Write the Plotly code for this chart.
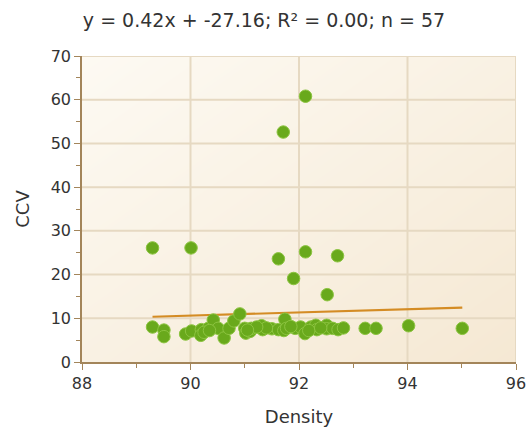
import plotly.graph_objects as go

density = [92.12, 91.71, 89.30, 90.01, 91.62, 92.12, 92.71, 91.90, 92.52,
           89.30, 89.51, 89.51, 89.91, 90.02, 90.20, 90.19, 90.33, 90.42, 90.51,
           90.62, 90.71, 90.80, 90.91, 91.00, 91.02, 91.10, 91.12, 91.31, 91.33,
           91.50, 91.62, 91.74, 91.72, 91.77, 91.93, 92.03, 92.11, 92.22, 92.31,
           92.33, 92.51, 92.51, 92.62, 92.72, 92.82, 93.22, 93.42, 94.02, 95.01,
           90.25, 91.40, 92.18, 91.22, 90.35, 91.05, 92.40, 91.85]
ccv = [60.8, 52.6, 26.1, 26.1, 23.6, 25.2, 24.3, 19.1, 15.4,
       8.0, 7.3, 5.8, 6.4, 7.1, 7.4, 6.1, 7.7, 9.6, 7.7,
       5.5, 7.7, 9.4, 11.0, 7.7, 6.6, 7.0, 7.7, 8.3, 7.4,
       7.6, 7.4, 9.8, 7.2, 7.7, 7.7, 8.0, 6.5, 8.0, 8.4,
       7.4, 8.4, 7.6, 7.7, 7.4, 7.8, 7.7, 7.7, 8.3, 7.7,
       6.8, 7.8, 7.2, 8.0, 7.2, 7.3, 7.8, 8.1]

trend_x = [89.30, 95.01]
trend_y = [10.35, 12.45]

title_text = "y = 0.42x + -27.16; R² = 0.00; n = 57"
x_ticks = [88, 90, 92, 94, 96]
y_ticks = [0, 10, 20, 30, 40, 50, 60, 70]

axis_col = "#a3855a"
grid_col = "#e6d9c2"
font = "DejaVu Sans"
x0, x1 = min(x_ticks), max(x_ticks)
y0, y1 = min(y_ticks), max(y_ticks)

fig = go.Figure()
# background gradient (light top-left -> tan bottom-right)
fig.add_trace(go.Heatmap(x=[x0, x1], y=[y0, y1], z=[[0.5, 0.0], [1.0, 0.5]],
                         zsmooth="best", showscale=False, hoverinfo="skip",
                         colorscale=[[0, "#f5e8d3"], [1, "#fdfaf3"]]))
gx, gy = [], []
for t in x_ticks[1:]:
    gx += [t, t, None]
    gy += [y0, y1, None]
for t in y_ticks[1:]:
    gx += [x0, x1, None]
    gy += [t, t, None]
fig.add_trace(go.Scatter(x=gx, y=gy, mode="lines", line=dict(color=grid_col, width=2),
                         hoverinfo="skip", connectgaps=False))
fig.add_trace(go.Scatter(x=trend_x, y=trend_y, mode="lines",
                         line=dict(color="#d48c24", width=2.2), hoverinfo="skip"))
fig.add_trace(go.Scatter(x=density, y=ccv, mode="markers",
                         marker=dict(size=12.5, color="#69a91c",
                                     line=dict(color="#8cc440", width=1))))

fig.update_layout(
    width=528, height=433,
    margin=dict(l=82, r=12, t=56, b=71),
    paper_bgcolor="white", plot_bgcolor="#f9f1e4",
    showlegend=False,
    title=dict(text=title_text, x=0.5, xanchor="center", y=1 - 20 / 433, yanchor="middle",
               font=dict(family=font, size=19, color="#333333")),
    font=dict(family=font, size=16, color="#333333"),
)
fig.update_xaxes(range=[x0, x1], tickvals=x_ticks, showgrid=False,
                 showline=True, linecolor=axis_col, linewidth=1.5, ticks="outside", ticklen=6,
                 tickcolor=axis_col, zeroline=False, automargin=False,
                 minor=dict(dtick=1, ticks="outside", ticklen=4, tickcolor=axis_col, showgrid=False),
                 title=dict(text="Density", font=dict(size=18), standoff=18),
                 tickfont=dict(size=16))
fig.update_yaxes(range=[y0, y1], tickvals=y_ticks, showgrid=False,
                 showline=True, linecolor=axis_col, linewidth=1.5, ticks="outside", ticklen=6,
                 tickcolor=axis_col, zeroline=False, automargin=False,
                 minor=dict(dtick=5, ticks="outside", ticklen=4, tickcolor=axis_col, showgrid=False),
                 title=dict(text="CCV", font=dict(size=18), standoff=16),
                 tickfont=dict(size=16))

fig.write_html("out.html")
